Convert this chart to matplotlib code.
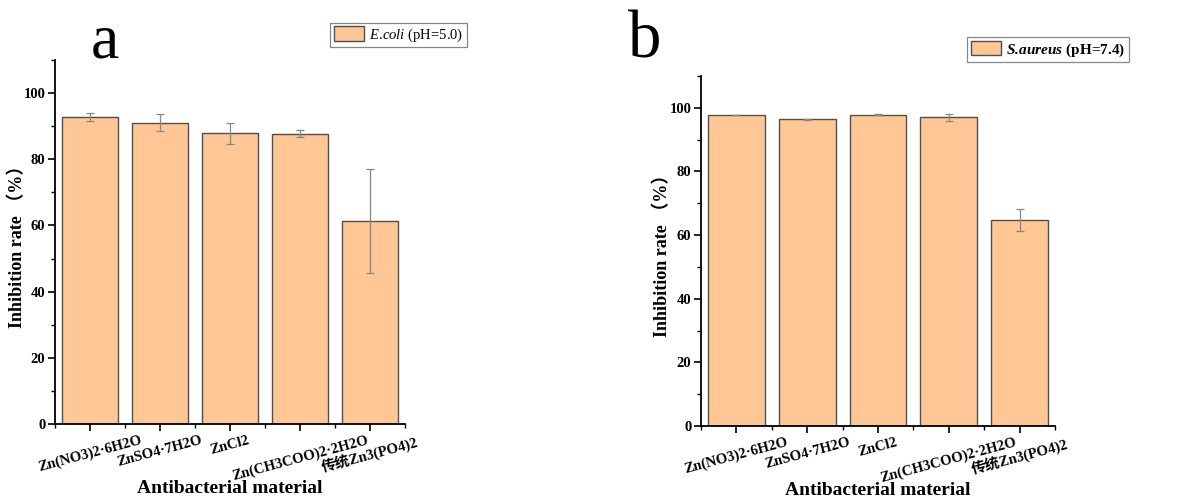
import matplotlib
matplotlib.use("Agg")
import matplotlib.pyplot as plt
from matplotlib.ticker import MultipleLocator, FixedLocator
from matplotlib.patches import Patch

plt.rcParams['font.family'] = ['Liberation Serif', 'Noto Sans CJK SC']
plt.rcParams['mathtext.fontset'] = 'custom'
plt.rcParams['mathtext.rm'] = 'Liberation Serif'
plt.rcParams['mathtext.it'] = 'Liberation Serif:italic'
plt.rcParams['mathtext.bf'] = 'Liberation Serif:bold'
plt.rcParams['mathtext.bfit'] = 'Liberation Serif:italic:bold'

categories = ["Zn(NO3)2·6H2O", "ZnSO4·7H2O", "ZnCl2", "Zn(CH3COO)2·2H2O", "传统Zn3(PO4)2"]
ecoli_vals = [92.8, 91.1, 87.9, 87.7, 61.3]
ecoli_err = [1.3, 2.5, 3.2, 1.0, 15.7]
saureus_vals = [97.7, 96.4, 97.9, 97.0, 64.7]
saureus_err = [0.1, 0.2, 0.3, 1.0, 3.5]
yticks = [0, 20, 40, 60, 80, 100]

W, H = 1179, 497
fig = plt.figure(figsize=(W / 100, H / 100), dpi=100)

def make_ax(l, r, b, t):
    return fig.add_axes([l / W, 1 - b / H, (r - l) / W, (b - t) / H])

axA = make_ax(55, 405, 424, 60)
axB = make_ax(701, 1055, 426, 76)

fill = '#FFC796'
edge = '#505050'
ecol = '#8a8580'

for ax, vals, errs in [(axA, ecoli_vals, ecoli_err), (axB, saureus_vals, saureus_err)]:
    x = list(range(1, len(categories) + 1))
    ax.bar(x, vals, width=0.8, color=fill, edgecolor=edge, linewidth=1.0, zorder=2)
    ax.errorbar(x, vals, yerr=errs, fmt='none', ecolor=ecol, elinewidth=0.9,
                capsize=3, capthick=0.9, zorder=3)
    ax.set_xlim(0.5, 5.5)
    ax.set_ylim(0, 110)
    ax.spines['top'].set_visible(False)
    ax.spines['right'].set_visible(False)
    ax.spines['left'].set_linewidth(1.3)
    ax.spines['bottom'].set_linewidth(1.3)
    ax.set_xticks(x)
    ax.set_xticklabels(categories, rotation=15, ha='center', fontweight='bold',
                       fontsize=10.5)
    ax.xaxis.set_minor_locator(FixedLocator([0.5, 1.5, 2.5, 3.5, 4.5, 5.5]))
    ax.set_yticks(yticks)
    ax.set_yticklabels([str(v) for v in yticks], fontweight='bold', fontsize=10.5)
    ax.yaxis.set_minor_locator(MultipleLocator(10))
    ax.tick_params(which='major', direction='out', length=5, width=1.2, pad=2)
    ax.tick_params(which='minor', direction='out', length=3, width=1.0)
    ax.set_xlabel('Antibacterial material', fontweight='bold', fontsize=14, labelpad=-2)
    ax.set_ylabel('Inhibition rate （%）', fontweight='bold', fontsize=13)
    ax.yaxis.set_label_coords(-0.083, 0.5)

fig.text(105 / W, 1 - 58 / H, 'a', fontsize=46, ha='center', va='baseline')
fig.text(645 / W, 1 - 57 / H, 'b', fontsize=48, ha='center', va='baseline')

hA = Patch(facecolor=fill, edgecolor=edge, linewidth=1.0)
legA = fig.legend([hA], [r'$\mathit{E.\!coli}$ (pH=5.0)'], loc='upper left',
                  bbox_to_anchor=(330 / W, 1 - 22.7 / H), borderaxespad=0,
                  fontsize=10.5, fancybox=False, edgecolor='#888888', framealpha=1,
                  handlelength=2.1, handleheight=1.15, handletextpad=0.3,
                  borderpad=0.25)
legA.get_frame().set_linewidth(0.9)

hB = Patch(facecolor=fill, edgecolor=edge, linewidth=1.0)
legB = fig.legend([hB], [r'$\mathbfit{S.\!aureus}$ (pH=7.4)'], loc='upper left',
                  bbox_to_anchor=(967 / W, 1 - 37 / H), borderaxespad=0,
                  prop={'weight': 'bold', 'size': 11}, fancybox=False,
                  edgecolor='#888888', framealpha=1,
                  handlelength=2.0, handleheight=1.1, handletextpad=0.3,
                  borderpad=0.25)
legB.get_frame().set_linewidth(0.9)

fig.savefig('out.png', dpi=100)
